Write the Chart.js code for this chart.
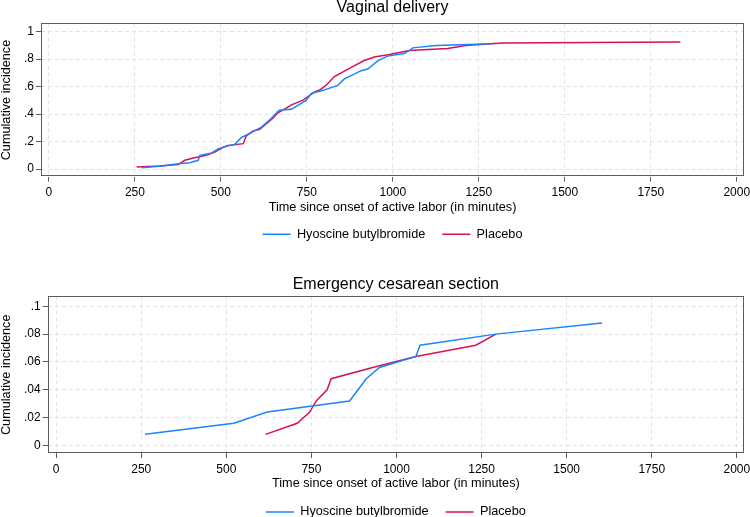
<!DOCTYPE html>
<html>
<head>
<meta charset="utf-8">
<script src="https://cdn.jsdelivr.net/npm/chart.js@4.4.1/dist/chart.umd.min.js"></script>
<style>
html, body { margin: 0; padding: 0; background: #fff; overflow: hidden; width: 750px; height: 517px; }
.box { position: absolute; left: 0; width: 750px; }
#box1 { top: 0; height: 258px; }
#box2 { top: 258px; height: 275px; }
</style>
</head>
<body>
<div class="box" id="box1"><canvas id="vaginal"></canvas></div>
<div class="box" id="box2"><canvas id="cesarean"></canvas></div>
<script>
// cumulative incidence
var hbbVagTime = [270, 330, 381, 410, 424, 434, 439, 473, 492, 516, 540, 560, 584, 618, 647, 666, 671, 705, 748, 763, 797, 840, 859, 908, 927, 956, 985, 1033, 1048, 1058, 1125, 1193, 1285];
var hbbVagInc  = [.009, .022, .04, .047, .057, .064, .10, .118, .147, .166, .18, .23, .26, .305, .37, .42, .428, .435, .50, .55, .573, .609, .656, .716, .728, .787, .822, .841, .863, .882, .90, .905, .912];

var plcVagTime = [255, 320, 376, 395, 420, 458, 482, 507, 521, 565, 574, 594, 613, 652, 666, 690, 705, 739, 772, 790, 806, 830, 879, 917, 946, 990, 1048, 1159, 1212, 1319, 1836];
var plcVagInc  = [.016, .022, .033, .064, .08, .10, .123, .159, .172, .185, .242, .277, .29, .372, .41, .443, .467, .502, .56, .58, .61, .673, .74, .79, .815, .834, .863, .877, .90, .917, .925];

var hbbCsTime = [261, 522, 620, 862, 911, 950, 1057, 1069, 1292, 1604];
var hbbCsInc  = [.008, .016, .024, .032, .048, .056, .064, .072, .080, .088];

var plcCsTime = [615, 708, 745, 764, 796, 808, 930, 1057, 1233, 1292];
var plcCsInc  = [.008, .016, .024, .032, .040, .048, .056, .064, .072, .080];

var seriesNames = ["Hyoscine butylbromide", "Placebo"];
var xTicks = [0, 250, 500, 750, 1000, 1250, 1500, 1750, 2000];
var vagYTicks = [0, .2, .4, .6, .8, 1];
var csYTicks = [0, .02, .04, .06, .08, .1];

Chart.defaults.font.family = "'Liberation Sans', Arial, sans-serif";
Chart.defaults.color = "#000";

function pts(t, v) {
	return t.map(function(x, i) { return {x: x, y: v[i]}; });
}

function yLabel(v) {
	if (v === 0) return "0";
	return String(Math.round(v * 100) / 100).replace(/^0\./, ".");
}

// box round the plot region
var framePlugin = {
	id: "frame",
	beforeDatasetsDraw: function(chart) {
		var a = chart.chartArea, ctx = chart.ctx;
		ctx.save();
		ctx.strokeStyle = "#5c5c5c";
		ctx.lineWidth = 1;
		ctx.strokeRect(Math.round(a.left) + 0.5, Math.round(a.top) + 0.5,
			Math.round(a.right - a.left) - 1, Math.round(a.bottom - a.top) - 1);
		ctx.restore();
	}
};

function makeChart(id, p) {
	return new Chart(document.getElementById(id), {
		type: "line",
		data: {
			datasets: [
				{
					label: seriesNames[0],
					data: pts(p.t1, p.v1),
					borderColor: "#1a85ff",
					backgroundColor: "#1a85ff",
					borderWidth: 1.5,
					pointRadius: 0,
					tension: 0,
					fill: false
				},
				{
					label: seriesNames[1],
					data: pts(p.t2, p.v2),
					borderColor: "#d41159",
					backgroundColor: "#d41159",
					borderWidth: 1.5,
					pointRadius: 0,
					tension: 0,
					fill: false
				}
			]
		},
		options: {
			responsive: true,
			maintainAspectRatio: false,
			animation: false,
			layout: { padding: { top: 0, left: 0, right: 0, bottom: p.padBottom } },
			plugins: {
				title: {
					display: true,
					text: p.title,
					fullSize: false,
					font: { size: 16, weight: "normal", lineHeight: 0.9 },
					padding: { top: p.titleTop, bottom: p.titleBottom }
				},
				legend: {
					position: "bottom",
					fullSize: false,
					labels: {
						usePointStyle: true,
						pointStyle: "line",
						pointStyleWidth: 28,
						padding: 17,
						font: { size: 12.7 }
					}
				},
				tooltip: { enabled: false }
			},
			scales: {
				x: {
					type: "linear",
					min: p.xMin,
					max: 2021,
					afterBuildTicks: function(s) { s.ticks = xTicks.map(function(v) { return {value: v}; }); },
					afterFit: function(s) { s.paddingRight = 6; },
					ticks: { font: { size: 12 }, padding: 4, maxRotation: 0, callback: function(v) { return String(v); } },
					grid: { color: "#e3e3e3", tickColor: "#5c5c5c", tickLength: 5, tickBorderDash: [] },
					border: { display: false, dash: [4, 3] },
					title: {
						display: true,
						text: "Time since onset of active labor (in minutes)",
						font: { size: 12.7 },
						padding: { top: -4.5, bottom: p.xTitleBottom }
					}
				},
				y: {
					type: "linear",
					min: p.yMin,
					max: p.yMax,
					afterBuildTicks: function(s) { s.ticks = p.yTicks.map(function(v) { return {value: v}; }); },
					ticks: { font: { size: 12 }, padding: 2, callback: yLabel },
					grid: { color: "#e3e3e3", tickColor: "#5c5c5c", tickLength: 5, tickBorderDash: [] },
					border: { display: false, dash: [4, 3] },
					title: {
						display: true,
						text: "Cumulative incidence",
						font: { size: 12.7, lineHeight: 1 },
						padding: { top: 0, bottom: 9.3 }
					}
				}
			}
		},
		plugins: [framePlugin]
	});
}

makeChart("vaginal", {
	title: "Vaginal delivery",
	t1: hbbVagTime, v1: hbbVagInc, t2: plcVagTime, v2: plcVagInc,
	yTicks: vagYTicks, yMin: -0.055, yMax: 1.06, xMin: -23,
	titleTop: 0, titleBottom: 9, padBottom: 7.5, xTitleBottom: -4
});

makeChart("cesarean", {
	title: "Emergency cesarean section",
	t1: hbbCsTime, v1: hbbCsInc, t2: plcCsTime, v2: plcCsInc,
	yTicks: csYTicks, yMin: -0.0055, yMax: 0.1071, xMin: -25,
	titleTop: 19, titleBottom: 5, padBottom: 4.7, xTitleBottom: -2.7
});
</script>
</body>
</html>
